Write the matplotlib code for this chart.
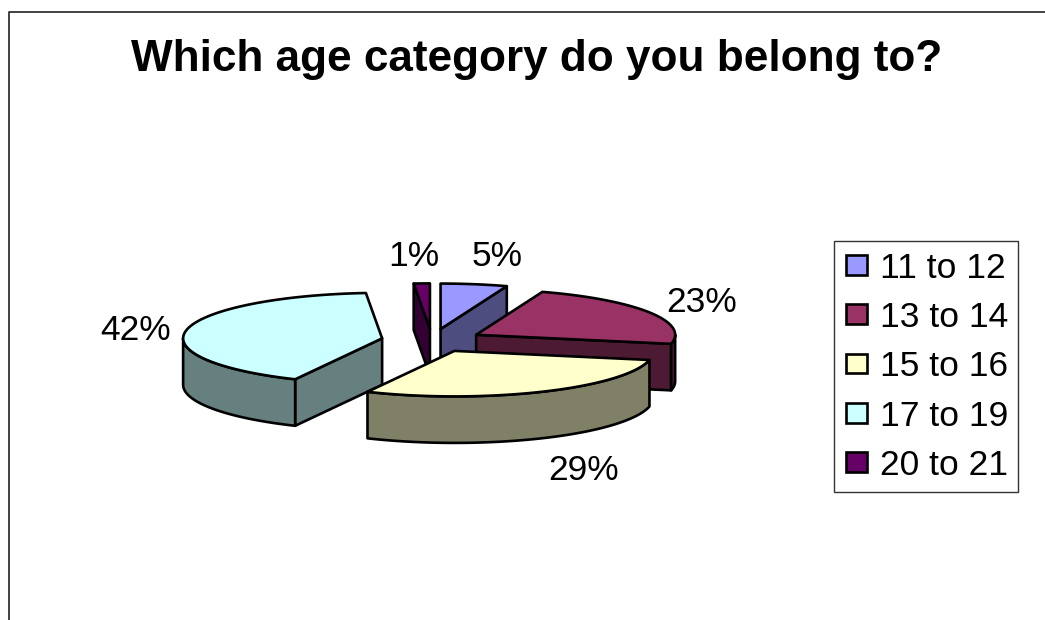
import numpy as np
import matplotlib
matplotlib.use("Agg")
import matplotlib.pyplot as plt
from matplotlib.patches import Polygon, Patch, Rectangle

title = "Which age category do you belong to?"
categories = ["11 to 12", "13 to 14", "15 to 16", "17 to 19", "20 to 21"]
shares = [5.4, 22.8, 29.0, 41.5, 1.3]
share_labels = ["5%", "23%", "29%", "42%", "1%"]
top_colors = ["#9999FF", "#993366", "#FFFFCC", "#CCFFFF", "#660066"]
side_colors = ["#4D4D80", "#4D1A33", "#808066", "#668080", "#330033"]

# layout (pixels of the 1045x620 canvas)
CX, CY, RX, RY, DEPTH, EXPLODE = 432, 340.5, 199, 45.5, 46.5, 0.255
LABEL_POS = [(497, 256), (702, 303), (584, 470), (136, 330), (414, 256)]
EDGE = dict(edgecolor="black", linewidth=1.9, joinstyle="round")

plt.rcParams["font.family"] = ["Liberation Sans", "DejaVu Sans"]
fig = plt.figure(figsize=(10.45, 6.2), dpi=100, facecolor="white")
ax = fig.add_axes([0, 0, 1, 1])
ax.set_xlim(0, 1045)
ax.set_ylim(620, 0)
ax.axis("off")

# chart-area border, running off the right and bottom of the canvas
ax.plot([8.5, 8.5, 1060], [640, 11.5, 11.5], color="#333333", lw=1.3, clip_on=False)


def pt(theta, ox, oy, dz=0.0):
    t = np.radians(theta)
    return np.column_stack([ox + RX * np.sin(t), oy - RY * np.cos(t) + dz])


edges = np.concatenate([[0], np.cumsum(shares)]) * 360 / sum(shares)
order = sorted(range(len(shares)), key=lambda i: -np.cos(np.radians((edges[i] + edges[i + 1]) / 2)))

for i in order:
    a0, a1 = edges[i], edges[i + 1]
    mid = np.radians((a0 + a1) / 2)
    ox = CX + EXPLODE * RX * np.sin(mid)
    oy = CY - EXPLODE * RY * np.cos(mid)
    apex = np.array([[ox, oy]])
    apex_low = np.array([[ox, oy + DEPTH]])
    # cut faces that turn toward the viewer
    for ang, visible in ((a0, np.sin(np.radians(a0)) < 0), (a1, np.sin(np.radians(a1)) > 0)):
        if visible:
            face = np.vstack([apex, pt(ang, ox, oy), pt(ang, ox, oy, DEPTH), apex_low])
            ax.add_patch(Polygon(face, closed=True, facecolor=side_colors[i], **EDGE))
    # outer wall, front half only
    w0, w1 = max(a0, 90), min(a1, 270)
    if w1 > w0:
        th = np.linspace(w0, w1, 60)
        wall = np.vstack([pt(th, ox, oy), pt(th[::-1], ox, oy, DEPTH)])
        ax.add_patch(Polygon(wall, closed=True, facecolor=side_colors[i], **EDGE))
    # top face
    th = np.linspace(a0, a1, 80)
    ax.add_patch(Polygon(np.vstack([apex, pt(th, ox, oy)]), closed=True, facecolor=top_colors[i], **EDGE))

for lab, (x, y) in zip(share_labels, LABEL_POS):
    ax.text(x, y, lab, fontsize=25.5, ha="center", va="center", color="black")

ax.text(536.5, 60, title, fontsize=31.8, fontweight="bold", ha="center", va="center", color="black")

ax.add_patch(Rectangle((833.5, 240.5), 184, 251, facecolor="white", edgecolor="#333333", linewidth=1.0))
handles = [Patch(facecolor=c, edgecolor="black", linewidth=1.9) for c in top_colors]
leg = ax.legend(handles, categories, loc="upper left", bbox_to_anchor=(835.4, 241),
                bbox_transform=ax.transData, borderaxespad=0, fontsize=25.5,
                frameon=False, handlelength=0.6, handleheight=0.48, handletextpad=0.37,
                labelspacing=0.46, borderpad=0.3)

fig.savefig("out.png", dpi=100, facecolor="white")
